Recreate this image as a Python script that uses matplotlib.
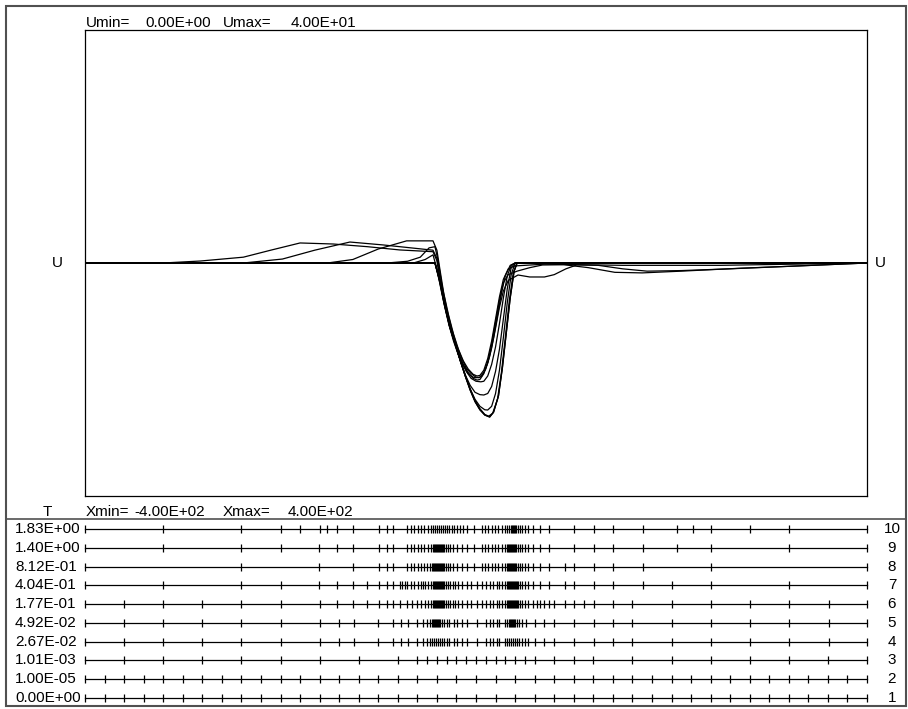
import matplotlib.pyplot as plt
from matplotlib.patches import Rectangle
from matplotlib.lines import Line2D
from matplotlib.transforms import blended_transform_factory

plt.rcParams['font.family'] = ['Liberation Sans', 'DejaVu Sans']

# output times (bottom row first)
times = ["0.00E+00", "1.00E-05", "1.01E-03", "2.67E-02", "4.92E-02",
         "1.77E-01", "4.04E-01", "8.12E-01", "1.40E+00", "1.83E+00"]

# solution U(x) at each output time
xs_t1 = [-400, -42, -37, -32, -27, -21, -16, -11, -6, -1, 4, 9, 14, 18, 23, 27, 31, 35, 39, 42, 400]
us_t1 = [20, 20, 18.5, 16.5, 14.6, 13.0, 11.6, 10.3, 9.1, 8.1, 7.4, 6.95, 6.78, 7.2, 8.6, 11.0, 14.0, 17.0, 19.3, 20, 20]
xs_t2 = [-400, -42, -37, -32, -27, -21, -16, -11, -6, -1, 4, 9, 14, 18, 23, 27, 31, 35, 39, 42, 400]
us_t2 = [20, 20, 18.5, 16.5, 14.6, 13.0, 11.6, 10.3, 9.1, 8.1, 7.4, 6.95, 6.78, 7.2, 8.6, 11.0, 14.0, 17.0, 19.3, 20, 20]
xs_t3 = [-400, -42, -37, -32, -27, -21, -16, -11, -6, -1, 4, 9, 13, 17, 22, 26, 30, 34, 38, 42, 400]
us_t3 = [20, 20, 18.5, 16.5, 14.6, 13.0, 11.6, 10.4, 9.2, 8.2, 7.5, 7.0, 6.85, 7.1, 8.3, 10.6, 13.6, 16.7, 19.1, 20, 20]
xs_t4 = [-400, -42, -37, -32, -27, -21, -16, -11, -6, -1, 4, 9, 12, 16, 20, 24, 28, 32, 36, 40, 400]
us_t4 = [20, 20, 18.4, 16.4, 14.6, 13.0, 11.6, 10.3, 9.2, 8.3, 7.7, 7.4, 7.38, 7.7, 8.8, 10.8, 13.6, 16.6, 19.0, 20, 20]
xs_t5 = [-400, -42, -37, -32, -27, -21, -16, -11, -6, -1, 4, 8, 12, 16, 20, 24, 28, 32, 36, 40, 400]
us_t5 = [20, 20, 18.3, 16.3, 14.5, 12.9, 11.6, 10.4, 9.5, 8.9, 8.7, 8.67, 8.8, 9.4, 10.7, 12.6, 15.2, 17.8, 19.6, 20, 20]
xs_t6 = [-400, -64, -52, -44, -40, -35, -30, -25, -20, -15, -10, -5, 0, 5, 8, 12, 16, 20, 24, 28, 32, 36, 40, 400]
us_t6 = [20, 20, 20.3, 20.7, 19.5, 17.4, 15.6, 14.0, 12.7, 11.6, 10.7, 10.1, 9.85, 9.8, 9.85, 10.3, 11.3, 12.8, 14.8, 17.0,
         18.9, 19.8, 20, 20]
xs_t7 = [-400, -91, -70, -57, -48, -42, -39, -35, -30, -25, -20, -15, -10, -5, 0, 3, 6, 10, 14, 18, 22, 26, 30, 35, 40, 400]
us_t7 = [20, 20, 20.15, 20.5, 21.3, 21.4, 20.3, 18.2, 16.1, 14.4, 13.0, 11.9, 11.0, 10.5, 10.2, 10.15, 10.3, 10.9, 12.0,
         13.6, 15.5, 17.4, 18.9, 19.8, 20, 20]
xs_t8 = [-400, -152, -126, -100, -71, -44, -40, -37, -33, -28, -23, -18, -13, -8, -3, 1, 4, 8, 12, 16, 20, 24, 28, 33, 40,
         70, 150, 250, 400]
us_t8 = [20, 20, 20.3, 21.2, 21.9, 21.9, 21.1, 19.5, 17.4, 15.5, 13.9, 12.6, 11.6, 10.9, 10.45, 10.3, 10.35, 10.8, 11.8,
         13.3, 15.2, 17.1, 18.6, 19.5, 19.75, 19.9, 19.8, 19.8, 20]
xs_t9 = [-400, -238, -198, -165, -129, -95, -44, -40, -37, -33, -28, -23, -18, -13, -8, -3, 1, 4, 8, 12, 16, 20, 24, 28,
         33, 42, 55, 68, 90, 115, 142, 170, 210, 270, 330, 400]
us_t9 = [20, 20, 20.34, 21.1, 21.8, 21.55, 21.1, 20.4, 18.8, 16.8, 15.0, 13.5, 12.3, 11.3, 10.6, 10.1, 9.95, 10.0, 10.5,
         11.5, 13.0, 14.9, 16.8, 18.3, 19.0, 19.3, 19.6, 19.83, 19.85, 19.6, 19.2, 19.15, 19.3, 19.55, 19.75, 20]
xs_t10 = [-400, -320, -282, -238, -210, -180, -146, -111, -78, -44, -40, -37, -33, -28, -23, -18, -13, -8, -3, 0, 4, 8,
          12, 16, 20, 24, 28, 33, 43, 55, 70, 80, 92, 103, 125, 150, 175, 210, 260, 330, 400]
us_t10 = [20, 20, 20.17, 20.5, 21.1, 21.72, 21.63, 21.4, 21.12, 20.97, 20.2, 18.6, 16.6, 14.8, 13.3, 12.1, 11.2, 10.5,
          10.2, 10.15, 10.2, 10.6, 11.4, 12.7, 14.4, 16.2, 17.6, 18.5, 18.97, 18.8, 18.8, 19.0, 19.5, 19.83, 19.8, 19.5,
          19.3, 19.35, 19.5, 19.75, 20]

# grid points at each output time
mesh_t1 = [-400, -380, -360, -340, -320, -300, -280, -260, -240, -220, -200, -180, -160, -140, -120, -100, -80, -60,
           -40, -20, 0, 20, 40, 60, 80, 100, 120, 140, 160, 180, 200, 220, 240, 260, 280, 300, 320, 340, 360, 380, 400]
mesh_t2 = [-400, -380, -360, -340, -320, -300, -280, -260, -240, -220, -200, -180, -160, -140, -120, -100, -80, -60,
           -40, -20, 0, 20, 40, 60, 80, 100, 120, 140, 160, 180, 200, 220, 240, 260, 280, 300, 320, 340, 360, 380, 400]
mesh_t3 = [-400, -360, -320, -280, -240, -200, -160, -120, -80, -60, -50, -40, -30, -20, -10, 0, 10, 20, 30, 40, 50, 60,
           80, 100, 120, 160, 200, 240, 280, 320, 360, 400]
mesh_t4 = [-400, -360, -320, -280, -240, -200, -160, -140, -125, -100, -85, -77, -70, -60, -54, -50, -47, -45, -43, -41,
           -39, -37, -35, -33, -30, -28, -23, -19, -14, -9, 1, 10, 14, 17, 21, 24, 30, 32, 34, 36, 38, 40, 42, 44, 47, 50,
           53, 60, 70, 80, 100, 121, 140, 160, 200, 240, 280, 320, 361, 400]
mesh_t5 = [-400, -360, -320, -280, -240, -200, -160, -140, -125, -100, -85, -77, -70, -60, -54, -50, -47, -45, -44, -43,
           -42, -41, -40, -39, -38, -37, -35, -33, -30, -28, -23, -19, -14, -9, 1, 10, 14, 17, 21, 24, 30, 32, 34, 35, 36,
           37, 38, 39, 40, 42, 44, 47, 51, 60, 70, 80, 100, 121, 140, 160, 200, 240, 280, 320, 361, 400]
mesh_t6 = [-400, -360, -320, -280, -240, -200, -160, -142, -126, -112, -99, -91, -85, -78, -71, -65, -60, -56, -52, -49,
           -46, -44, -43, -42, -41, -40, -39, -38, -37, -36, -35, -34, -33, -31, -29, -27, -24, -21, -18, -14, -9, -5, 1, 6,
           10, 14, 17, 21, 24, 27, 30, 32, 33, 34, 35, 36, 37, 38, 39, 40, 41, 42, 43, 45, 47, 50, 53, 58, 62, 65, 70, 75,
           80, 91, 100, 110, 121, 140, 160, 200, 240, 280, 320, 361, 400]
mesh_t7 = [-400, -320, -240, -200, -161, -142, -126, -112, -99, -91, -85, -78, -76, -73, -71, -66, -63, -59, -56, -54,
           -52, -49, -46, -44, -43, -42, -41, -40, -39, -38, -37, -36, -35, -34, -33, -31, -29, -27, -24, -21, -18, -14, -9,
           -5, 1, 6, 10, 14, 17, 21, 24, 27, 30, 32, 33, 34, 35, 36, 37, 38, 39, 40, 41, 42, 43, 45, 47, 50, 53, 58, 65,
           75, 91, 100, 121, 140, 171, 200, 240, 320, 400]
mesh_t8 = [-400, -240, -161, -126, -99, -91, -85, -71, -66, -63, -59, -56, -53, -50, -47, -45, -44, -43, -42, -41, -40,
           -39, -38, -37, -36, -35, -34, -33, -31, -29, -27, -24, -19, -14, -9, -2, 6, 9, 12, 16, 19, 23, 27, 30, 32, 33,
           34, 35, 36, 37, 38, 39, 40, 41, 43, 45, 47, 50, 53, 58, 65, 75, 91, 100, 121, 140, 171, 240, 400]
mesh_t9 = [-400, -320, -240, -200, -161, -142, -126, -99, -91, -85, -71, -66, -63, -59, -56, -53, -49, -46, -44, -43, -42,
           -41, -40, -39, -38, -37, -36, -35, -34, -33, -31, -29, -27, -24, -19, -14, -9, -2, 6, 9, 12, 16, 19, 23, 27, 30,
           32, 33, 34, 35, 36, 37, 38, 39, 40, 41, 43, 45, 47, 50, 53, 58, 65, 75, 100, 121, 140, 171, 206, 240, 320, 400]
mesh_t10 = [-400, -320, -240, -200, -180, -160, -152, -142, -126, -99, -91, -85, -71, -66, -63, -59, -56, -53, -49, -46,
            -44, -42, -40, -38, -36, -34, -32, -30, -28, -25, -22, -19, -16, -13, -9, -2, 6, 9, 12, 16, 19, 23, 27, 30, 32,
            34, 36, 37, 38, 39, 40, 41, 43, 45, 47, 50, 53, 58, 65, 75, 100, 121, 140, 171, 206, 222, 240, 280, 320, 400]

curves = [(xs_t1, us_t1), (xs_t2, us_t2), (xs_t3, us_t3), (xs_t4, us_t4), (xs_t5, us_t5),
          (xs_t6, us_t6), (xs_t7, us_t7), (xs_t8, us_t8), (xs_t9, us_t9), (xs_t10, us_t10)]
meshes = [mesh_t1, mesh_t2, mesh_t3, mesh_t4, mesh_t5, mesh_t6, mesh_t7, mesh_t8, mesh_t9, mesh_t10]

W, H = 908, 709
fig = plt.figure(figsize=(W / 100, H / 100), dpi=100)


def px_box(left, top, right, bottom):
    return [left / W, 1 - bottom / H, (right - left) / W, (bottom - top) / H]


# solution panel
ax = fig.add_axes(px_box(85, 30, 867, 496))
for xs, us in curves:
    ax.plot(xs, us, color='black', lw=0.9)
ax.set_xlim(-400, 400)
ax.set_ylim(0, 40)
ax.set_xticks([])
ax.set_yticks([])
for s in ax.spines.values():
    s.set_linewidth(0.9)

fs = 11
fig.text(86 / W, 1 - 27 / H, "Umin=", fontsize=fs, va='baseline')
fig.text(145 / W, 1 - 27 / H, "0.00E+00", fontsize=fs, va='baseline')
fig.text(223 / W, 1 - 27 / H, "Umax=", fontsize=fs, va='baseline')
fig.text(291 / W, 1 - 27 / H, "4.00E+01", fontsize=fs, va='baseline')
fig.text(57 / W, 1 - 263 / H, "U", fontsize=fs, ha='center', va='center')
fig.text(875 / W, 1 - 263 / H, "U", fontsize=fs, ha='left', va='center')
fig.text(47 / W, 1 - 516 / H, "T", fontsize=fs, ha='center', va='baseline')
fig.text(86 / W, 1 - 516 / H, "Xmin=", fontsize=fs, va='baseline')
fig.text(134 / W, 1 - 516 / H, "-4.00E+02", fontsize=fs, va='baseline')
fig.text(223 / W, 1 - 516 / H, "Xmax=", fontsize=fs, va='baseline')
fig.text(288 / W, 1 - 516 / H, "4.00E+02", fontsize=fs, va='baseline')

# outer frame and separator
fig.patches.append(Rectangle((6 / W, 1 - 706 / H), 900 / W, 700 / H, transform=fig.transFigure,
                             fill=False, edgecolor='#505050', lw=1.5))
fig.lines.append(Line2D([6 / W, 906 / W], [1 - 518.5 / H, 1 - 518.5 / H], transform=fig.transFigure,
                        color='#505050', lw=1.2))

# mesh panel
axm = fig.add_axes(px_box(85, 520, 867, 706))
axm.axis('off')
axm.set_xlim(-400, 400)
axm.set_ylim(0.574, 10.478)
tr = blended_transform_factory(fig.transFigure, axm.transData)
for row, (mesh, t) in enumerate(zip(meshes, times), start=1):
    axm.plot([-400, 400], [row, row], color='black', lw=0.9, clip_on=False)
    axm.plot(mesh, [row] * len(mesh), ls='none', marker='|', ms=5.5, mew=0.9, color='black', clip_on=False)
    axm.text(15 / W, row, t, transform=tr, fontsize=fs, ha='left', va='center')
    axm.text(892 / W, row, str(row), transform=tr, fontsize=fs, ha='center', va='center')

fig.savefig("out.png", dpi=100)
